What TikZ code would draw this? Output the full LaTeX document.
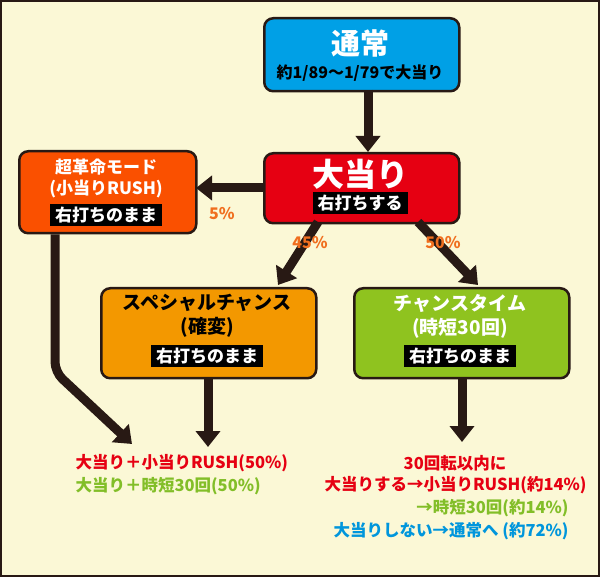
\documentclass[tikz,border=0pt]{standalone}
\usepackage{fontspec}
\setmainfont{Noto Sans CJK JP}
\usepackage{tikz}
\usetikzlibrary{arrows.meta,positioning}
\definecolor{bgyel}{RGB}{251,248,214}
\definecolor{dark}{RGB}{40,25,20}
\definecolor{tsujo}{RGB}{0,160,230}
\definecolor{atari}{RGB}{230,0,18}
\definecolor{kakumei}{RGB}{250,80,0}
\definecolor{special}{RGB}{243,152,0}
\definecolor{chance}{RGB}{143,195,31}
\definecolor{pct}{RGB}{240,110,30}
\definecolor{txtred}{RGB}{230,0,18}
\definecolor{txtgreen}{RGB}{130,190,40}
\definecolor{txtblue}{RGB}{0,150,220}
\begin{document}
\begin{tikzpicture}[x=1pt,y=-1pt,font=\bfseries,
  mode/.style={draw=dark,line width=2.5pt,rounded corners=9pt,anchor=north west},
  tag/.style={fill=black,text=white,inner ysep=2.5pt,inner xsep=5pt,font=\bfseries\fontsize{17}{17}\selectfont},
  flow/.style={-{Triangle[length=16pt,width=24pt]},line width=9pt,draw=dark},
  ratio/.style={text=pct,font=\bfseries\fontsize{16}{16}\selectfont},
  result/.style={font=\bfseries\fontsize{16.5}{16.5}\selectfont}]
\fill[bgyel] (0,0) rectangle (600,577);
\draw[dark,line width=2pt] (1,1) rectangle (599,576);
% boxes
\node[mode,fill=tsujo,minimum width=195pt,minimum height=73pt] (tsujo) at (263,17) {};
\node[text=white,font=\bfseries\fontsize{29}{29}\selectfont] at (360,43) {通常};
\node[font=\bfseries\fontsize{16}{16}\selectfont] at (360,73) {約1/89～1/79で大当り};
\node[mode,fill=atari,minimum width=195pt,minimum height=70pt] (atari) at (263,152) {};
\node[text=white,font=\bfseries\fontsize{32}{32}\selectfont] at (360,174) {大当り};
\node[tag] at (360,203) {右打ちする};
\node[mode,fill=kakumei,minimum width=177pt,minimum height=82pt] (kakumei) at (18,150) {};
\node[text=white,font=\bfseries\fontsize{17}{21}\selectfont,align=center] at (106,178) {超革命モード\\(小当りRUSH)};
\node[tag] at (106,215) {右打ちのまま};
\node[mode,fill=special,minimum width=215pt,minimum height=90pt] (special) at (100,287) {};
\node[font=\bfseries\fontsize{19}{24}\selectfont,align=center] at (207,316) {スペシャルチャンス\\(確変)};
\node[tag] at (207,356) {右打ちのまま};
\node[mode,fill=chance,minimum width=215pt,minimum height=90pt] (chance) at (353,287) {};
\node[text=white,font=\bfseries\fontsize{19}{24}\selectfont,align=center] at (460,316) {チャンスタイム\\(時短30回)};
\node[tag] at (460,356) {右打ちのまま};
% results
\node[result,anchor=west,text=txtred] (resA) at (72,463) {大当り＋小当りRUSH(50\%)};
\node[result,anchor=west,text=txtgreen] (resB) at (72,486) {大当り＋時短30回(50\%)};
\node[result,text=txtred] (resC) at (455,463) {30回転以内に};
\node[result,anchor=east,text=txtred] (resD) at (590,485) {大当りする→小当りRUSH(約14\%)};
\node[result,anchor=east,text=txtgreen] (resE) at (572,508) {→時短30回(約14\%)};
\node[result,anchor=east,text=txtblue] (resF) at (572,531) {大当りしない→通常へ (約72\%)};
% arrows
\coordinate (hitA) at (208,447);
\coordinate (hitB) at (462,442);
\coordinate (hitC) at (132,444);
\coordinate (bend) at (55,372);
\coordinate (to45) at (278,285);
\coordinate (to50) at (478,285);
\draw[flow] (368,90) -- (atari.north -| 368,0);
\draw[flow] (atari.west |- 0,188) -- (196,188);
\draw[flow] (318,222) -- (to45);
\draw[flow] (418,222) -- (to50);
\draw[flow] (special.south -| 208,0) -- (hitA);
\draw[flow] (chance.south -| 462,0) -- (hitB);
\draw[flow,rounded corners=10pt] (kakumei.south -| 55,0) -- (bend) -- (hitC);
\node[ratio] at (222,214) {5\%};
\node[ratio] at (310,243) {45\%};
\node[ratio] at (443,243) {50\%};
\end{tikzpicture}
\end{document}
